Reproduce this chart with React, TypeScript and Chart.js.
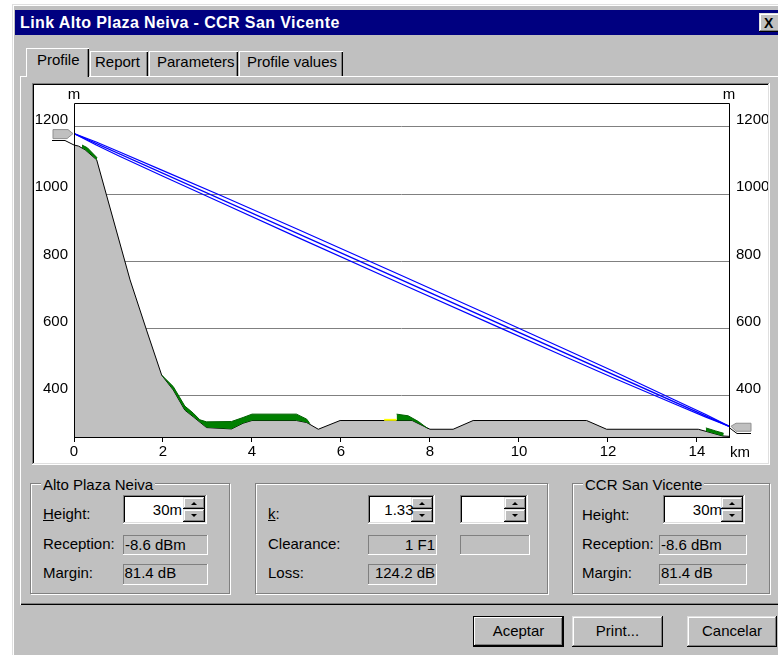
import React, { useEffect, useRef } from "react";
import { Chart, registerables } from "chart.js";

Chart.register(...registerables);

// ---------- data ----------
const terrainKm = [0, 0.1, 0.25, 0.51, 1.26, 1.63, 1.97, 2.23, 2.49, 2.68, 2.98, 3.54, 3.8, 4.0, 5.0, 5.23, 5.49, 5.98, 7.6, 8.0, 8.52, 8.97, 11.52, 11.97, 14.03, 14.58, 14.72];
const terrainM = [1146, 1143, 1132, 1102, 745, 596, 462, 418, 358, 338, 306, 302, 319, 327, 327, 321, 301, 327, 327, 301, 301, 327, 327, 301, 301, 281, 280];

const greenKm = [0.18, 0.3, 0.52, 0.6, 1.97, 2.23, 2.49, 2.68, 2.83, 2.98, 3.54, 3.8, 4.0, 5.0, 5.23, 5.3, 6.0, 7.25, 7.51, 7.74, 7.95, 8.5, 14.2, 14.42, 14.6];
const greenTopM = [1146, 1138, 1108, null, 462, 428, 370, 349, 329, 323, 324, 336, 346, 346, 331, 318, null, 346, 341, 324, 303, null, 305, 296, 289];

const yellowKm = [6.97, 7.25];
const yellowM = [329, 329];

const losKm = [0, 14.72];
const losM = [1180, 310];

const fresnelKm = [0, 0.5, 1, 2, 3.3, 5, 7.36, 9.5, 11, 12.1, 13.5, 14.2, 14.72];
const fresnelUpperM = [1180, 1155, 1127, 1070, 996, 897, 758, 631, 541, 475, 388, 345, 310];
const fresnelLowerM = [1180, 1146, 1114, 1053, 975, 873, 733, 607, 519, 455, 376, 337, 310];

const xTicks = [0, 2, 4, 6, 8, 10, 12, 14];
const yTicks = [400, 600, 800, 1000, 1200];
const xMin = 0;
const xMax = 14.72;
const yMin = 278;
const yMax = 1271;

// ---------- styles ----------
const UI_FONT = '"Liberation Sans", Arial, sans-serif';
const GRAY = "#c0c0c0";
const raised = "inset -1px -1px #000, inset 1px 1px #dfdfdf, inset -2px -2px #808080, inset 2px 2px #fff";
const sunken = "inset -1px -1px #fff, inset 1px 1px #808080, inset -2px -2px #dfdfdf, inset 2px 2px #000";
const staticEdge = "inset -1px -1px #fff, inset 1px 1px #808080";

const decorPlugin = {
  id: "decor",
  afterDatasetsDraw(chart: any) {
    const { ctx, chartArea: a, scales } = chart;
    const y = scales.y;
    const L = Math.round(a.left) + 0.5;
    const R = Math.round(a.right) + 0.5;
    const T = Math.round(a.top) + 0.5;
    const B = Math.round(a.bottom) + 0.5;
    ctx.save();
    ctx.strokeStyle = "#000";
    ctx.lineWidth = 1;
    ctx.beginPath();
    ctx.moveTo(L, B);
    ctx.lineTo(L, T);
    ctx.lineTo(R, T);
    ctx.lineTo(R, B);
    ctx.stroke();

    const yA = y.getPixelForValue(losM[0]);
    const yB = y.getPixelForValue(losM[losM.length - 1]);
    const yT0 = y.getPixelForValue(terrainM[0]);
    // left antenna marker
    ctx.fillStyle = "#c0c0c0";
    ctx.strokeStyle = "#909090";
    ctx.beginPath();
    ctx.moveTo(a.left - 1, yA);
    ctx.lineTo(a.left - 6, yA - 4);
    ctx.lineTo(a.left - 21, yA - 4);
    ctx.lineTo(a.left - 21, yA + 5);
    ctx.lineTo(a.left - 7, yA + 5);
    ctx.closePath();
    ctx.fill();
    ctx.stroke();
    ctx.strokeStyle = "#000";
    ctx.beginPath();
    ctx.moveTo(a.left - 22, Math.round(yA + 6.5) + 0.5);
    ctx.lineTo(a.left - 9, Math.round(yA + 6.5) + 0.5);
    ctx.lineTo(a.left, yT0);
    ctx.stroke();
    // right antenna marker
    ctx.fillStyle = "#c0c0c0";
    ctx.strokeStyle = "#909090";
    ctx.beginPath();
    ctx.moveTo(a.right + 2, yB);
    ctx.lineTo(a.right + 7, yB - 3);
    ctx.lineTo(a.right + 22, yB - 3);
    ctx.lineTo(a.right + 22, yB + 5);
    ctx.lineTo(a.right + 7, yB + 5);
    ctx.closePath();
    ctx.fill();
    ctx.stroke();
    ctx.strokeStyle = "#000";
    ctx.beginPath();
    ctx.moveTo(a.right + 1, yB + 2);
    ctx.lineTo(a.right + 8, Math.round(yB + 7) + 0.5);
    ctx.lineTo(a.right + 22, Math.round(yB + 7) + 0.5);
    ctx.stroke();

    // unit labels
    ctx.fillStyle = "#000";
    ctx.font = `15px ${UI_FONT}`;
    ctx.textAlign = "center";
    ctx.textBaseline = "alphabetic";
    ctx.fillText("m", a.left, a.top - 4);
    ctx.fillText("m", a.right, a.top - 4);
    ctx.textAlign = "left";
    ctx.fillText("km", a.right + 1, a.bottom + 20);
    ctx.restore();
  },
};

function ProfileChart() {
  const ref = useRef<HTMLCanvasElement>(null);
  useEffect(() => {
    const pts = (xs: number[], ys: (number | null)[]) => xs.map((x, i) => ({ x, y: ys[i] }));
    const font = { family: UI_FONT, size: 15 };
    const plain = (v: any) => String(v);
    const chart = new Chart(ref.current as HTMLCanvasElement, {
      type: "line",
      data: {
        datasets: [
          {
            label: "Terrain",
            data: pts(terrainKm, terrainM),
            borderColor: "#000",
            borderWidth: 1,
            backgroundColor: GRAY,
            fill: "start",
            pointRadius: 0,
            tension: 0,
            order: 6,
          },
          {
            label: "Clutter",
            data: pts(greenKm, greenTopM),
            borderColor: "#006000",
            borderWidth: 1,
            backgroundColor: "#008000",
            fill: 0,
            pointRadius: 0,
            spanGaps: false,
            tension: 0,
            order: 5,
          },
          {
            label: "Other",
            data: pts(yellowKm, yellowM),
            borderColor: "#ffff00",
            borderWidth: 2,
            fill: false,
            pointRadius: 0,
            order: 4,
          },
          {
            label: "Fresnel upper",
            data: pts(fresnelKm, fresnelUpperM),
            borderColor: "#0000ff",
            borderWidth: 1.2,
            fill: false,
            pointRadius: 0,
            tension: 0,
            order: 3,
          },
          {
            label: "Fresnel lower",
            data: pts(fresnelKm, fresnelLowerM),
            borderColor: "#0000ff",
            borderWidth: 1.2,
            fill: false,
            pointRadius: 0,
            tension: 0,
            order: 2,
          },
          {
            label: "Line of sight",
            data: pts(losKm, losM),
            borderColor: "#0000ff",
            borderWidth: 1.4,
            fill: false,
            pointRadius: 0,
            order: 1,
          },
        ],
      },
      options: {
        responsive: false,
        animation: false,
        events: [],
        layout: { padding: { top: 18, left: 0, right: 0, bottom: 0 } },
        plugins: { legend: { display: false }, tooltip: { enabled: false } },
        scales: {
          x: {
            type: "linear",
            min: xMin,
            max: xMax,
            afterBuildTicks: (s: any) => {
              s.ticks = xTicks.map((v) => ({ value: v }));
            },
            afterFit: (s: any) => {
              s.height = 26;
            },
            grid: { drawOnChartArea: false, drawTicks: true, tickLength: 5, tickColor: "#000", color: "#000" },
            border: { display: true, color: "#000" },
            ticks: { color: "#000", font, padding: 1, maxRotation: 0, autoSkip: false, callback: plain },
          },
          y: {
            type: "linear",
            position: "left",
            min: yMin,
            max: yMax,
            afterBuildTicks: (s: any) => {
              s.ticks = yTicks.map((v) => ({ value: v }));
            },
            afterFit: (s: any) => {
              s.width = 40;
            },
            grid: { color: "#808080", drawTicks: false },
            border: { display: false },
            ticks: { color: "#000", font, padding: 6, labelOffset: -7, callback: plain },
          },
          y2: {
            type: "linear",
            position: "right",
            min: yMin,
            max: yMax,
            afterBuildTicks: (s: any) => {
              s.ticks = yTicks.map((v) => ({ value: v }));
            },
            afterFit: (s: any) => {
              s.width = 39;
            },
            grid: { display: false, drawTicks: false },
            border: { display: false },
            ticks: { color: "#000", font, padding: 7, labelOffset: -7, callback: plain },
          },
        },
      } as any,
      plugins: [decorPlugin],
    });
    return () => chart.destroy();
  }, []);
  return <canvas ref={ref} width={734} height={378} style={{ position: "absolute", left: 34, top: 85, width: 734, height: 378 }} />;
}

// ---------- UI helpers ----------
function Box({ x, y, w, h, style, children }: any) {
  return <div style={{ position: "absolute", left: x, top: y, width: w, height: h, boxSizing: "border-box", ...style }}>{children}</div>;
}

function Label({ x, y, align = "left", size = 15, bold = false, color = "#000", bg, children }: any) {
  const lh = size + 2;
  const off = size === 15 ? 3 : Math.round(size * 0.19);
  const base: any = {
    position: "absolute",
    top: y - off,
    lineHeight: lh + "px",
    fontSize: size,
    fontWeight: bold ? "bold" : "normal",
    color,
    whiteSpace: "nowrap",
    fontFamily: UI_FONT,
  };
  if (align === "left") {
    base.left = x;
    if (bg) {
      base.background = bg;
      base.padding = "0 2px";
      base.left = x - 2;
    }
  } else if (align === "right") {
    base.left = x - 300;
    base.width = 300;
    base.textAlign = "right";
  } else {
    base.left = x - 150;
    base.width = 300;
    base.textAlign = "center";
  }
  return <div style={base}>{children}</div>;
}

function Arrow({ up }: any) {
  return (
    <div
      style={{
        width: 0,
        height: 0,
        borderLeft: "3px solid transparent",
        borderRight: "3px solid transparent",
        [up ? "borderBottom" : "borderTop"]: "3px solid #000",
      }}
    />
  );
}

function SpinInput({ x, y, w, h, text, textRight }: any) {
  const sw = 22;
  const inner = h - 4;
  const half = Math.floor(inner / 2);
  return (
    <>
      <Box x={x} y={y} w={w} h={h} style={{ background: "#fff", boxShadow: sunken }} />
      <Box
        x={x + w - 2 - sw}
        y={y + 2}
        w={sw}
        h={half}
        style={{ background: GRAY, boxShadow: raised, display: "flex", alignItems: "center", justifyContent: "center" }}
      >
        <Arrow up />
      </Box>
      <Box
        x={x + w - 2 - sw}
        y={y + 2 + half}
        w={sw}
        h={inner - half}
        style={{ background: GRAY, boxShadow: raised, display: "flex", alignItems: "center", justifyContent: "center" }}
      >
        <Arrow />
      </Box>
      {text ? (
        <Label x={textRight} y={y + 9} align="right">
          {text}
        </Label>
      ) : null}
    </>
  );
}

function ReadBox({ x, y, w, h }: any) {
  return <Box x={x} y={y} w={w} h={h} style={{ background: GRAY, boxShadow: staticEdge }} />;
}

function Group({ x, y, w, h }: any) {
  return (
    <Box
      x={x}
      y={y}
      w={w}
      h={h}
      style={{ border: "1px solid #808080", boxShadow: "inset 1px 1px #fff, 1px 1px #fff" }}
    />
  );
}

function Button({ x, y, w, h, text, isDefault }: any) {
  return (
    <>
      <Box
        x={x}
        y={y}
        w={w}
        h={h}
        style={{
          background: GRAY,
          boxShadow: isDefault
            ? "inset 0 0 0 1px #000, inset -2px -2px #000, inset 2px 2px #fff, inset -3px -3px #808080"
            : raised,
        }}
      />
      <Label x={x + w / 2} y={625} align="center">
        {text}
      </Label>
    </>
  );
}

export default function App() {
  return (
    <div
      style={{
        position: "absolute",
        left: 0,
        top: 0,
        width: 778,
        height: 655,
        overflow: "hidden",
        background: "#fff",
        fontFamily: UI_FONT,
        fontSize: 15,
        color: "#000",
      }}
    >
      {/* window frame */}
      <Box x={12} y={4} w={800} h={700} style={{ background: GRAY, boxShadow: "inset 1px 1px #dfdfdf, inset 2px 2px #fff" }} />
      {/* title bar */}
      <Box x={15} y={10} w={800} h={25} style={{ background: "#000080" }} />
      <div
        style={{
          position: "absolute",
          left: 20,
          top: 14,
          lineHeight: "18px",
          fontSize: 16,
          fontWeight: "bold",
          color: "#fff",
          whiteSpace: "nowrap",
          letterSpacing: "0.4px",
        }}
      >
        Link Alto Plaza Neiva - CCR San Vicente
      </div>
      <Box x={759} y={13} w={22} h={19} style={{ background: GRAY, boxShadow: raised }} />
      <div style={{ position: "absolute", left: 764, top: 15, fontSize: 14, lineHeight: "16px", fontWeight: "bold" }}>X</div>

      {/* tab panel */}
      <Box x={20} y={76} w={800} h={529} style={{ background: GRAY, boxShadow: "inset 1px 1px #fff, inset -1px -1px #000, inset -2px -2px #808080" }} />
      {/* tabs */}
      <Box x={90} y={51} w={58} h={25} style={{ background: GRAY, boxShadow: "inset 1px 1px #fff, inset -1px 0 #000, inset -2px 0 #808080" }} />
      <Box x={149} y={51} w={89} h={25} style={{ background: GRAY, boxShadow: "inset 1px 1px #fff, inset -1px 0 #000, inset -2px 0 #808080" }} />
      <Box x={239} y={51} w={104} h={25} style={{ background: GRAY, boxShadow: "inset 1px 1px #fff, inset -1px 0 #000, inset -2px 0 #808080" }} />
      <Box x={26} y={48} w={63} h={29} style={{ background: GRAY, boxShadow: "inset 1px 1px #fff, inset -1px 0 #000, inset -2px 0 #808080" }} />
      <Label x={37} y={54}>Profile</Label>
      <Label x={95} y={56}>Report</Label>
      <Label x={157} y={56}>Parameters</Label>
      <Label x={247} y={56}>Profile values</Label>

      {/* chart area */}
      <Box x={32} y={83} w={738} h={382} style={{ background: "#fff", boxShadow: sunken }} />
      <ProfileChart />

      {/* group: Alto Plaza Neiva */}
      <Group x={30} y={483} w={200} h={111} />
      <Label x={43} y={478.5} bg={GRAY}>Alto Plaza Neiva</Label>
      <Label x={43} y={508}>
        <u>H</u>eight:
      </Label>
      <SpinInput x={123} y={495} w={84} h={29} text="30m" textRight={182} />
      <Label x={43} y={538}>Reception:</Label>
      <ReadBox x={123} y={535} w={85} h={20} />
      <Label x={125} y={538.5}>-8.6 dBm</Label>
      <Label x={43} y={567}>Margin:</Label>
      <ReadBox x={123} y={564} w={85} h={21} />
      <Label x={124.5} y={567}>81.4 dB</Label>

      {/* group: middle */}
      <Group x={255} y={483} w={293} h={111} />
      <Label x={268} y={508}>
        <u>k</u>:
      </Label>
      <SpinInput x={368} y={495} w={67} h={29} text="1.33" textRight={413.5} />
      <SpinInput x={460} y={495} w={68} h={29} />
      <Label x={268} y={538}>Clearance:</Label>
      <ReadBox x={368} y={535} w={69} h={20} />
      <Label x={435} y={538.5} align="right">1 F1</Label>
      <ReadBox x={460} y={535} w={70} h={20} />
      <Label x={268} y={567}>Loss:</Label>
      <ReadBox x={368} y={564} w={69} h={21} />
      <Label x={435} y={567} align="right">124.2 dB</Label>

      {/* group: CCR San Vicente */}
      <Group x={572} y={483} w={198} h={111} />
      <Label x={585} y={478.5} bg={GRAY}>CCR San Vicente</Label>
      <Label x={582} y={509}>
        Hei<u>g</u>ht:
      </Label>
      <SpinInput x={663} y={495} w={82} h={29} text="30m" textRight={722} />
      <Label x={582} y={538}>Reception:</Label>
      <ReadBox x={659} y={535} w={88} h={20} />
      <Label x={661} y={538.5}>-8.6 dBm</Label>
      <Label x={582} y={567}>Margin:</Label>
      <ReadBox x={659} y={564} w={88} h={21} />
      <Label x={661} y={567}>81.4 dB</Label>

      {/* buttons */}
      <Button x={473} y={616} w={91} h={31} text="Aceptar" isDefault />
      <Button x={572} y={616} w={91} h={31} text="Print..." />
      <Button x={687} y={616} w={90} h={31} text="Cancelar" />
    </div>
  );
}
